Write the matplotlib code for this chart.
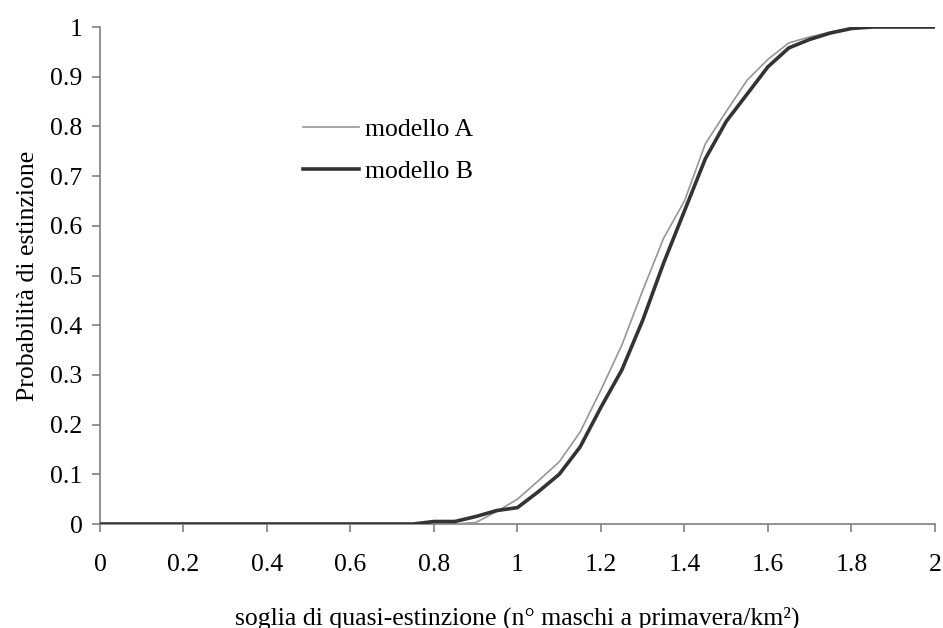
import numpy as np
import matplotlib
matplotlib.use("Agg")
import matplotlib.pyplot as plt

plt.rcParams['font.family'] = ['Liberation Serif', 'DejaVu Serif']

# soglia (x) e probabilita' di estinzione per i due modelli
soglia = np.round(np.arange(0, 2.0001, 0.05), 2)
modello_a = [0] * 18 + [
    0.003, 0.025, 0.05, 0.087, 0.125, 0.185, 0.27, 0.36, 0.47, 0.575,
    0.65, 0.765, 0.83, 0.893, 0.935, 0.968, 0.98, 0.99, 0.998,
    1.0, 1.0, 1.0, 1.0]
modello_b = [0] * 16 + [
    0.005, 0.005, 0.015, 0.027, 0.033, 0.065, 0.1, 0.155, 0.235, 0.31,
    0.41, 0.525, 0.63, 0.735, 0.81, 0.865, 0.92, 0.958, 0.975, 0.988,
    0.997, 1.0, 1.0, 1.0, 1.0]

fig = plt.figure(figsize=(9.43, 6.28), dpi=100)
ax = fig.add_axes([0.106, 0.1656, 0.8855, 0.7914])

ax.plot(soglia, modello_a, color='#969696', lw=1.2, label='modello A', zorder=3)
ax.plot(soglia, modello_b, color='#333333', lw=2.6, label='modello B', zorder=4)

ax.set_xlim(0, 2)
ax.set_ylim(0, 1)
ax.set_xticks(np.arange(0, 2.01, 0.2))
ax.set_xticklabels(['0', '0.2', '0.4', '0.6', '0.8', '1', '1.2', '1.4', '1.6', '1.8', '2'])
ax.set_yticks(np.arange(0, 1.01, 0.1))
ax.set_yticklabels(['0', '0.1', '0.2', '0.3', '0.4', '0.5', '0.6', '0.7', '0.8', '0.9', '1'])

for s in ['top', 'right']:
    ax.spines[s].set_visible(False)
for s in ['left', 'bottom']:
    ax.spines[s].set_color('#808080')
    ax.spines[s].set_linewidth(1.2)
ax.tick_params(axis='both', direction='out', length=5.5, width=1.2, color='#808080',
               labelsize=18.5)
ax.tick_params(axis='x', pad=16)
ax.tick_params(axis='y', pad=7)

ax.set_xlabel('soglia di quasi-estinzione (n° maschi a primavera/km²)', fontsize=18.5, labelpad=22)
ax.set_ylabel('Probabilità di estinzione', fontsize=18.5, labelpad=8)

ax.legend(loc='upper left', bbox_to_anchor=(0.243, 0.817), frameon=False, fontsize=18.5,
          handlelength=2.2, handletextpad=0.23, labelspacing=0.74, borderpad=0,
          borderaxespad=0)

fig.savefig('out.png', dpi=100)
